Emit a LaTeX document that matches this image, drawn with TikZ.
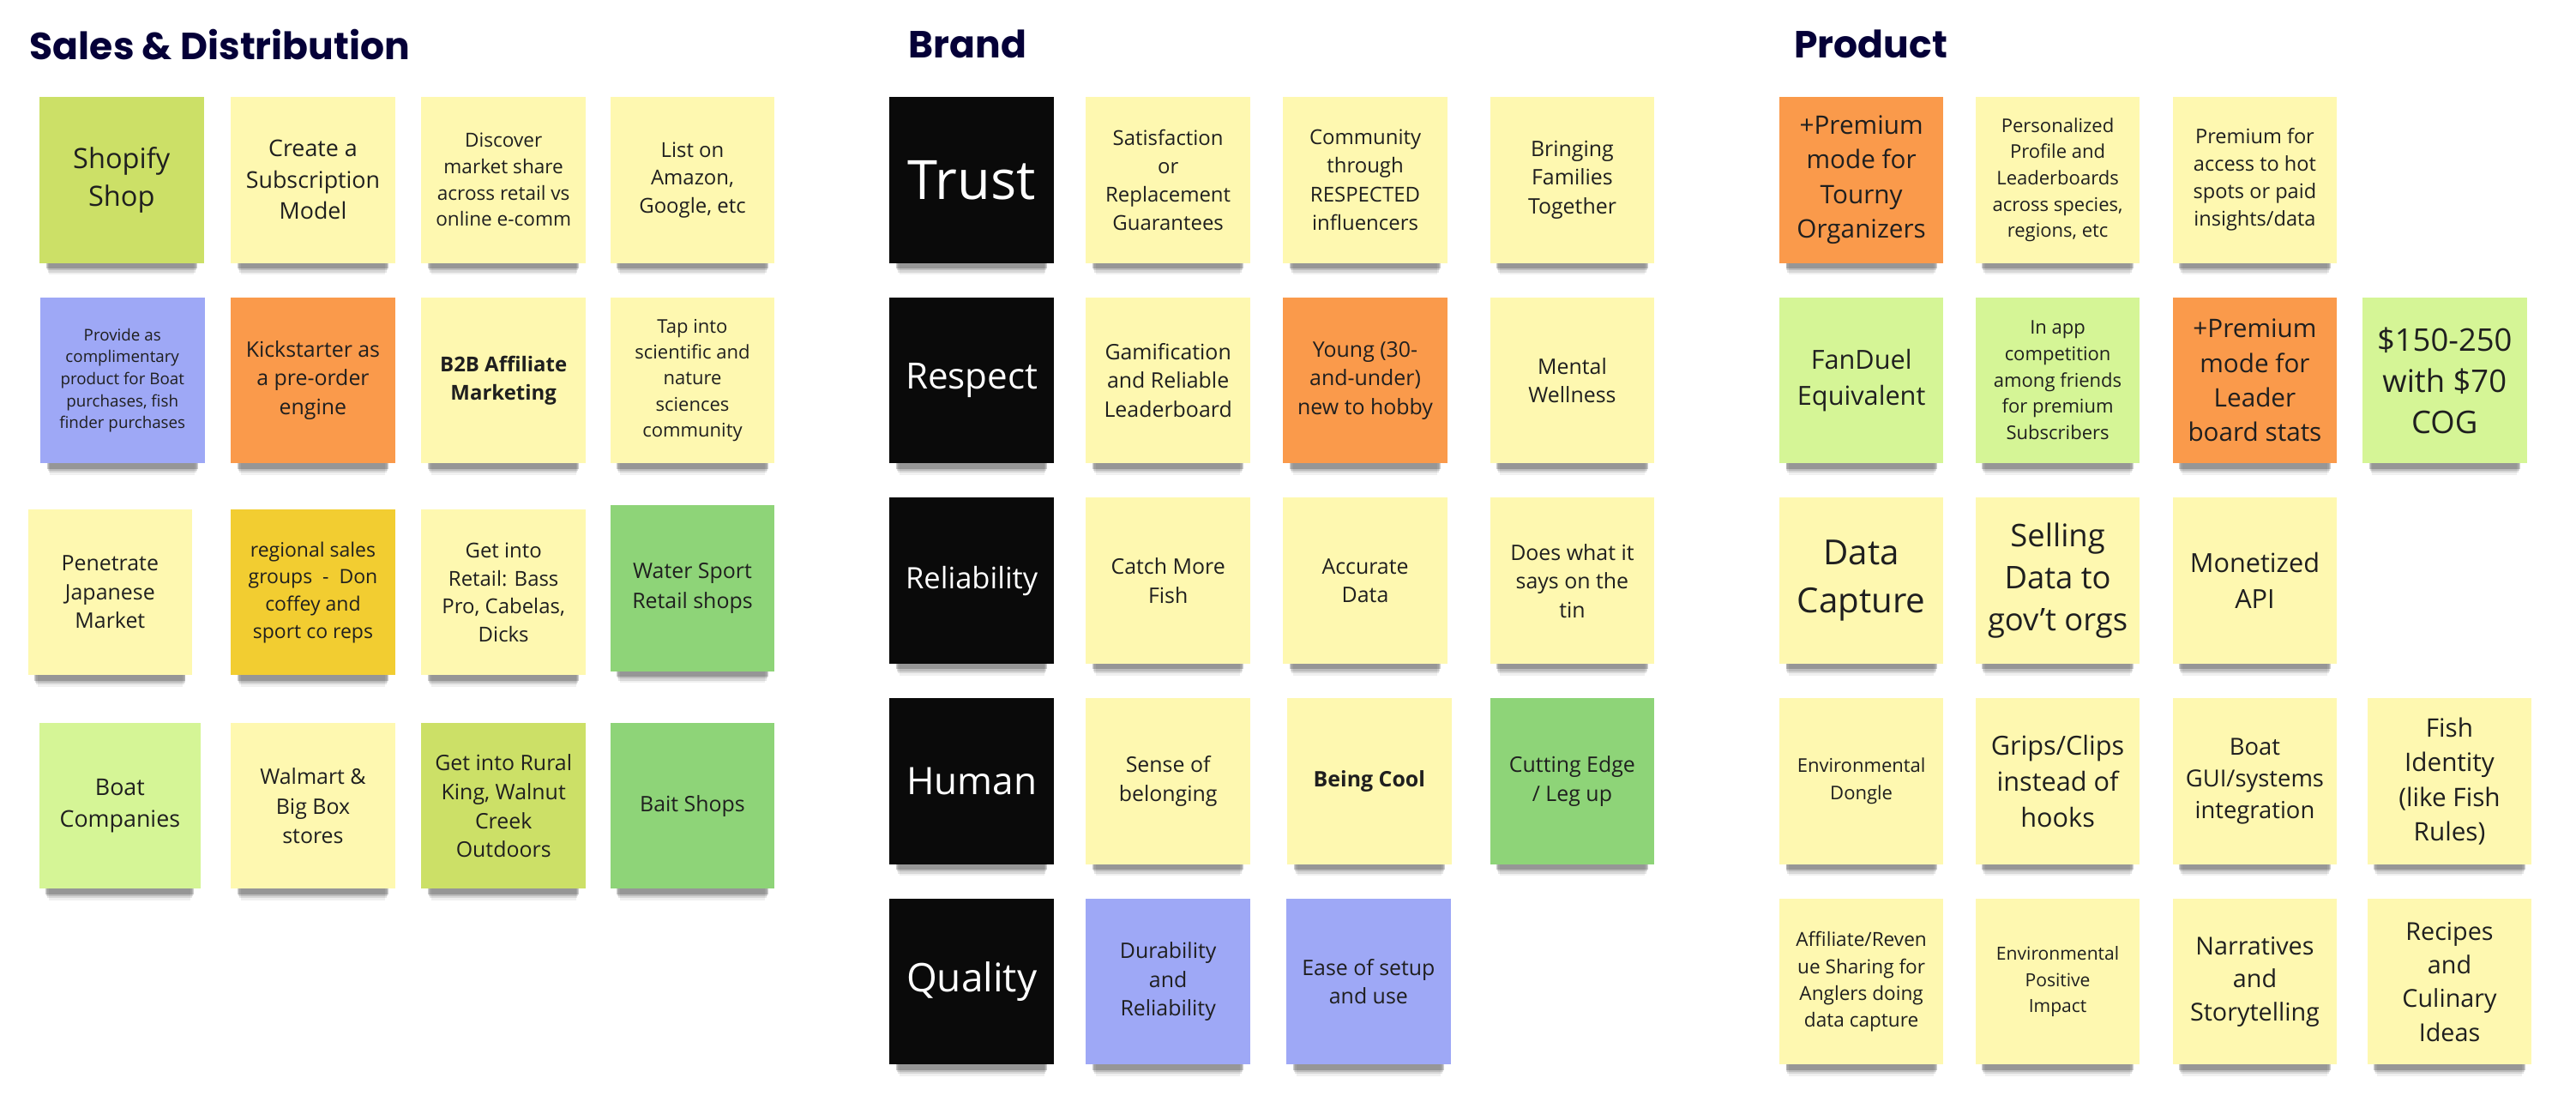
\documentclass[tikz,border=0pt]{standalone}
\usepackage{fontspec}
\usepackage{xcolor}
\usetikzlibrary{shadows}
\setmainfont{Open Sans}
\newfontfamily\headfont{Poppins}
\definecolor{navy}{HTML}{050038}
\definecolor{noteyellow}{HTML}{FEF8B0}
\definecolor{notelime}{HTML}{CCE067}
\definecolor{notelgreen}{HTML}{D5F596}
\definecolor{notegreen}{HTML}{8ED478}
\definecolor{noteorange}{HTML}{FA9A4B}
\definecolor{notegold}{HTML}{F2CD31}
\definecolor{noteblue}{HTML}{9EA8F6}
\definecolor{notedark}{HTML}{0A0A0A}
\newcommand{\ts}[2]{\fontsize{#1}{#2}\selectfont}
\tikzstyle{sticky} = [rectangle, fill=noteyellow, text=black!88, align=center, inner sep=0pt, minimum width=100pt, minimum height=101pt, drop shadow={shadow xshift=0pt, shadow yshift=-15pt, shadow scale=0.88, opacity=0.06, fill=black}, drop shadow={shadow xshift=0pt, shadow yshift=-12pt, shadow scale=0.9, opacity=0.1, fill=black}, drop shadow={shadow xshift=0pt, shadow yshift=-10pt, shadow scale=0.91, opacity=0.12, fill=black}, drop shadow={shadow xshift=0pt, shadow yshift=-8pt, shadow scale=0.92, opacity=0.2, fill=black}]
\tikzstyle{pillar} = [sticky, fill=notedark, text=white]
\tikzstyle{heading} = [anchor=west, inner sep=0pt, text=navy, font=\headfont\bfseries\ts{23}{27}]

\begin{document}
\begin{tikzpicture}[x=1pt, y=-1pt]
    \fill [white] (0,0) rectangle (1568,674);
    \useasboundingbox (0,0) rectangle (1568,674);
    % Headings
    \node [heading] (sales) at (18,27) {Sales \& Distribution};
    \node [heading] (brand) at (553,27) {Brand};
    \node [heading] (product) at (1092,27) {Product};
    % Sales & Distribution notes
    \node [sticky, fill=notelime, font=\ts{17}{23}] (shopify) at (74,109.5) {Shopify\\Shop};
    \node [sticky, font=\ts{14}{19}] (subscr) at (190.5,109.5) {Create a\\Subscription\\Model};
    \node [sticky, font=\ts{11.8}{16}] (mktshare) at (306.5,109.5) {Discover\\market share\\across retail vs\\online e-comm};
    \node [sticky, font=\ts{12.5}{17}] (amazon) at (421.5,109.5) {List on\\Amazon,\\Google, etc};
    \node [sticky, fill=noteblue, font=\ts{9.8}{13.4}] (compl) at (74.5,231.5) {Provide as\\complimentary\\product for Boat\\purchases, fish\\finder purchases};
    \node [sticky, fill=noteorange, font=\ts{13}{17.7}] (kick) at (190.5,231.5) {Kickstarter as\\a pre-order\\engine};
    \node [sticky, font=\bfseries\ts{12.5}{17}] (b2b) at (306.5,231.5) {B2B Affiliate\\Marketing};
    \node [sticky, font=\ts{11.5}{15.7}] (science) at (421.5,231.5) {Tap into\\scientific and\\nature\\sciences\\community};
    \node [sticky, font=\ts{13}{17.5}] (japan) at (67,360.5) {Penetrate\\Japanese\\Market};
    \node [sticky, fill=notegold, font=\ts{12}{16.5}] (regional) at (190.5,360.5) {regional sales\\groups~ -~ Don\\coffey and\\sport co reps};
    \node [sticky, font=\ts{12.5}{17}] (retail) at (306.5,360.5) {Get into\\Retail: Bass\\Pro, Cabelas,\\Dicks};
    \node [sticky, fill=notegreen, font=\ts{13}{18}] (water) at (421.5,358) {Water Sport\\Retail shops};
    \node [sticky, fill=notelgreen, minimum width=98pt, font=\ts{14}{19}] (boatco) at (73,490.5) {Boat\\Companies};
    \node [sticky, font=\ts{13}{18}] (walmart) at (190.5,490.5) {Walmart \&\\Big Box\\stores};
    \node [sticky, fill=notelime, font=\ts{13}{17.7}] (rural) at (306.5,490.5) {Get into Rural\\King, Walnut\\Creek\\Outdoors};
    \node [sticky, fill=notegreen, font=\ts{13}{18}] (bait) at (421.5,490.5) {Bait Shops};
    % Brand notes
    \node [pillar, font=\ts{33}{40}] (trust) at (591.5,109.5) {Trust};
    \node [sticky, font=\ts{12.5}{17.3}] (satisf) at (711,109.5) {Satisfaction\\or\\Replacement\\Guarantees};
    \node [sticky, font=\ts{12.5}{17.3}] (influ) at (831,109.5) {Community\\through\\RESPECTED\\influencers};
    \node [sticky, font=\ts{13}{17.5}] (families) at (957,109.5) {Bringing\\Families\\Together};
    \node [pillar, font=\ts{22}{28}] (respect) at (591.5,231.5) {Respect};
    \node [sticky, font=\ts{13}{17.5}] (gamif) at (711,231.5) {Gamification\\and Reliable\\Leaderboard};
    \node [sticky, fill=noteorange, font=\ts{13}{17.5}] (young) at (831,231.5) {Young (30-\\and-under)\\new to hobby};
    \node [sticky, font=\ts{13}{17.5}] (mental) at (957,231.5) {Mental\\Wellness};
    \node [pillar, font=\ts{18}{24}] (reliab) at (591.5,353.5) {Reliability};
    \node [sticky, font=\ts{13}{17.5}] (catch) at (711,353.5) {Catch More\\Fish};
    \node [sticky, font=\ts{13}{17.5}] (accurate) at (831,353.5) {Accurate\\Data};
    \node [sticky, font=\ts{13}{17.5}] (tin) at (957,353.5) {Does what it\\says on the\\tin};
    \node [pillar, font=\ts{23}{30}] (human) at (591.5,475.5) {Human};
    \node [sticky, font=\ts{13}{17.5}] (belong) at (711,475.5) {Sense of\\belonging};
    \node [sticky, font=\bfseries\ts{13}{17.5}] (cool) at (833.5,475.5) {Being Cool};
    \node [sticky, fill=notegreen, font=\ts{13}{17.5}] (edge) at (957,475.5) {Cutting Edge\\/ Leg up};
    \node [pillar, font=\ts{24}{30}] (quality) at (591.5,597.5) {Quality};
    \node [sticky, fill=noteblue, font=\ts{13}{17.5}] (durab) at (711,597.5) {Durability\\and\\Reliability};
    \node [sticky, fill=noteblue, font=\ts{13}{17.5}] (ease) at (833,597.5) {Ease of setup\\and use};
    % Product notes
    \node [sticky, fill=noteorange, font=\ts{15.5}{21}] (tourny) at (1133,109.5) {+Premium\\mode for\\Tourny\\Organizers};
    \node [sticky, font=\ts{11.5}{16}] (profile) at (1252.5,109.5) {Personalized\\Profile and\\Leaderboards\\across species,\\regions, etc};
    \node [sticky, font=\ts{12.3}{16.7}] (hotspots) at (1372.5,109.5) {Premium for\\access to hot\\spots or paid\\insights/data};
    \node [sticky, fill=notelgreen, font=\ts{16}{22}] (fanduel) at (1133,231.5) {FanDuel\\Equivalent};
    \node [sticky, fill=notelgreen, font=\ts{11.5}{16}] (inapp) at (1252.5,231.5) {In app\\competition\\among friends\\for premium\\Subscribers};
    \node [sticky, fill=noteorange, font=\ts{15.5}{21}] (leader) at (1372.5,231.5) {+Premium\\mode for\\Leader\\board stats};
    \node [sticky, fill=notelgreen, font=\ts{19}{25}] (price) at (1488,231.5) {\$150-250\\with \$70\\COG};
    \node [sticky, font=\ts{21}{29}] (capture) at (1133,353.5) {Data\\Capture};
    \node [sticky, font=\ts{19}{25.5}] (govt) at (1252.5,353.5) {Selling\\Data to\\gov't orgs};
    \node [sticky, font=\ts{16}{22}] (api) at (1372.5,353.5) {Monetized\\API};
    \node [sticky, font=\ts{11.5}{16.5}] (dongle) at (1133,475.5) {Environmental\\Dongle};
    \node [sticky, font=\ts{16}{22}] (grips) at (1252.5,475.5) {Grips/Clips\\instead of\\hooks};
    \node [sticky, font=\ts{14.3}{19.5}] (boatgui) at (1372.5,475.5) {Boat\\GUI/systems\\integration};
    \node [sticky, font=\ts{15.5}{21}] (fishid) at (1491,475.5) {Fish\\Identity\\(like Fish\\Rules)};
    \node [sticky, font=\ts{11.8}{16.3}] (revenue) at (1133,597.5) {Affiliate/Reven\\ue Sharing for\\Anglers doing\\data capture};
    \node [sticky, font=\ts{11}{16}] (impact) at (1252.5,597.5) {Environmental\\Positive\\Impact};
    \node [sticky, font=\ts{15}{20}] (stories) at (1372.5,597.5) {Narratives\\and\\Storytelling};
    \node [sticky, font=\ts{15}{20.5}] (recipes) at (1491,597.5) {Recipes\\and\\Culinary\\Ideas};
\end{tikzpicture}
\end{document}
